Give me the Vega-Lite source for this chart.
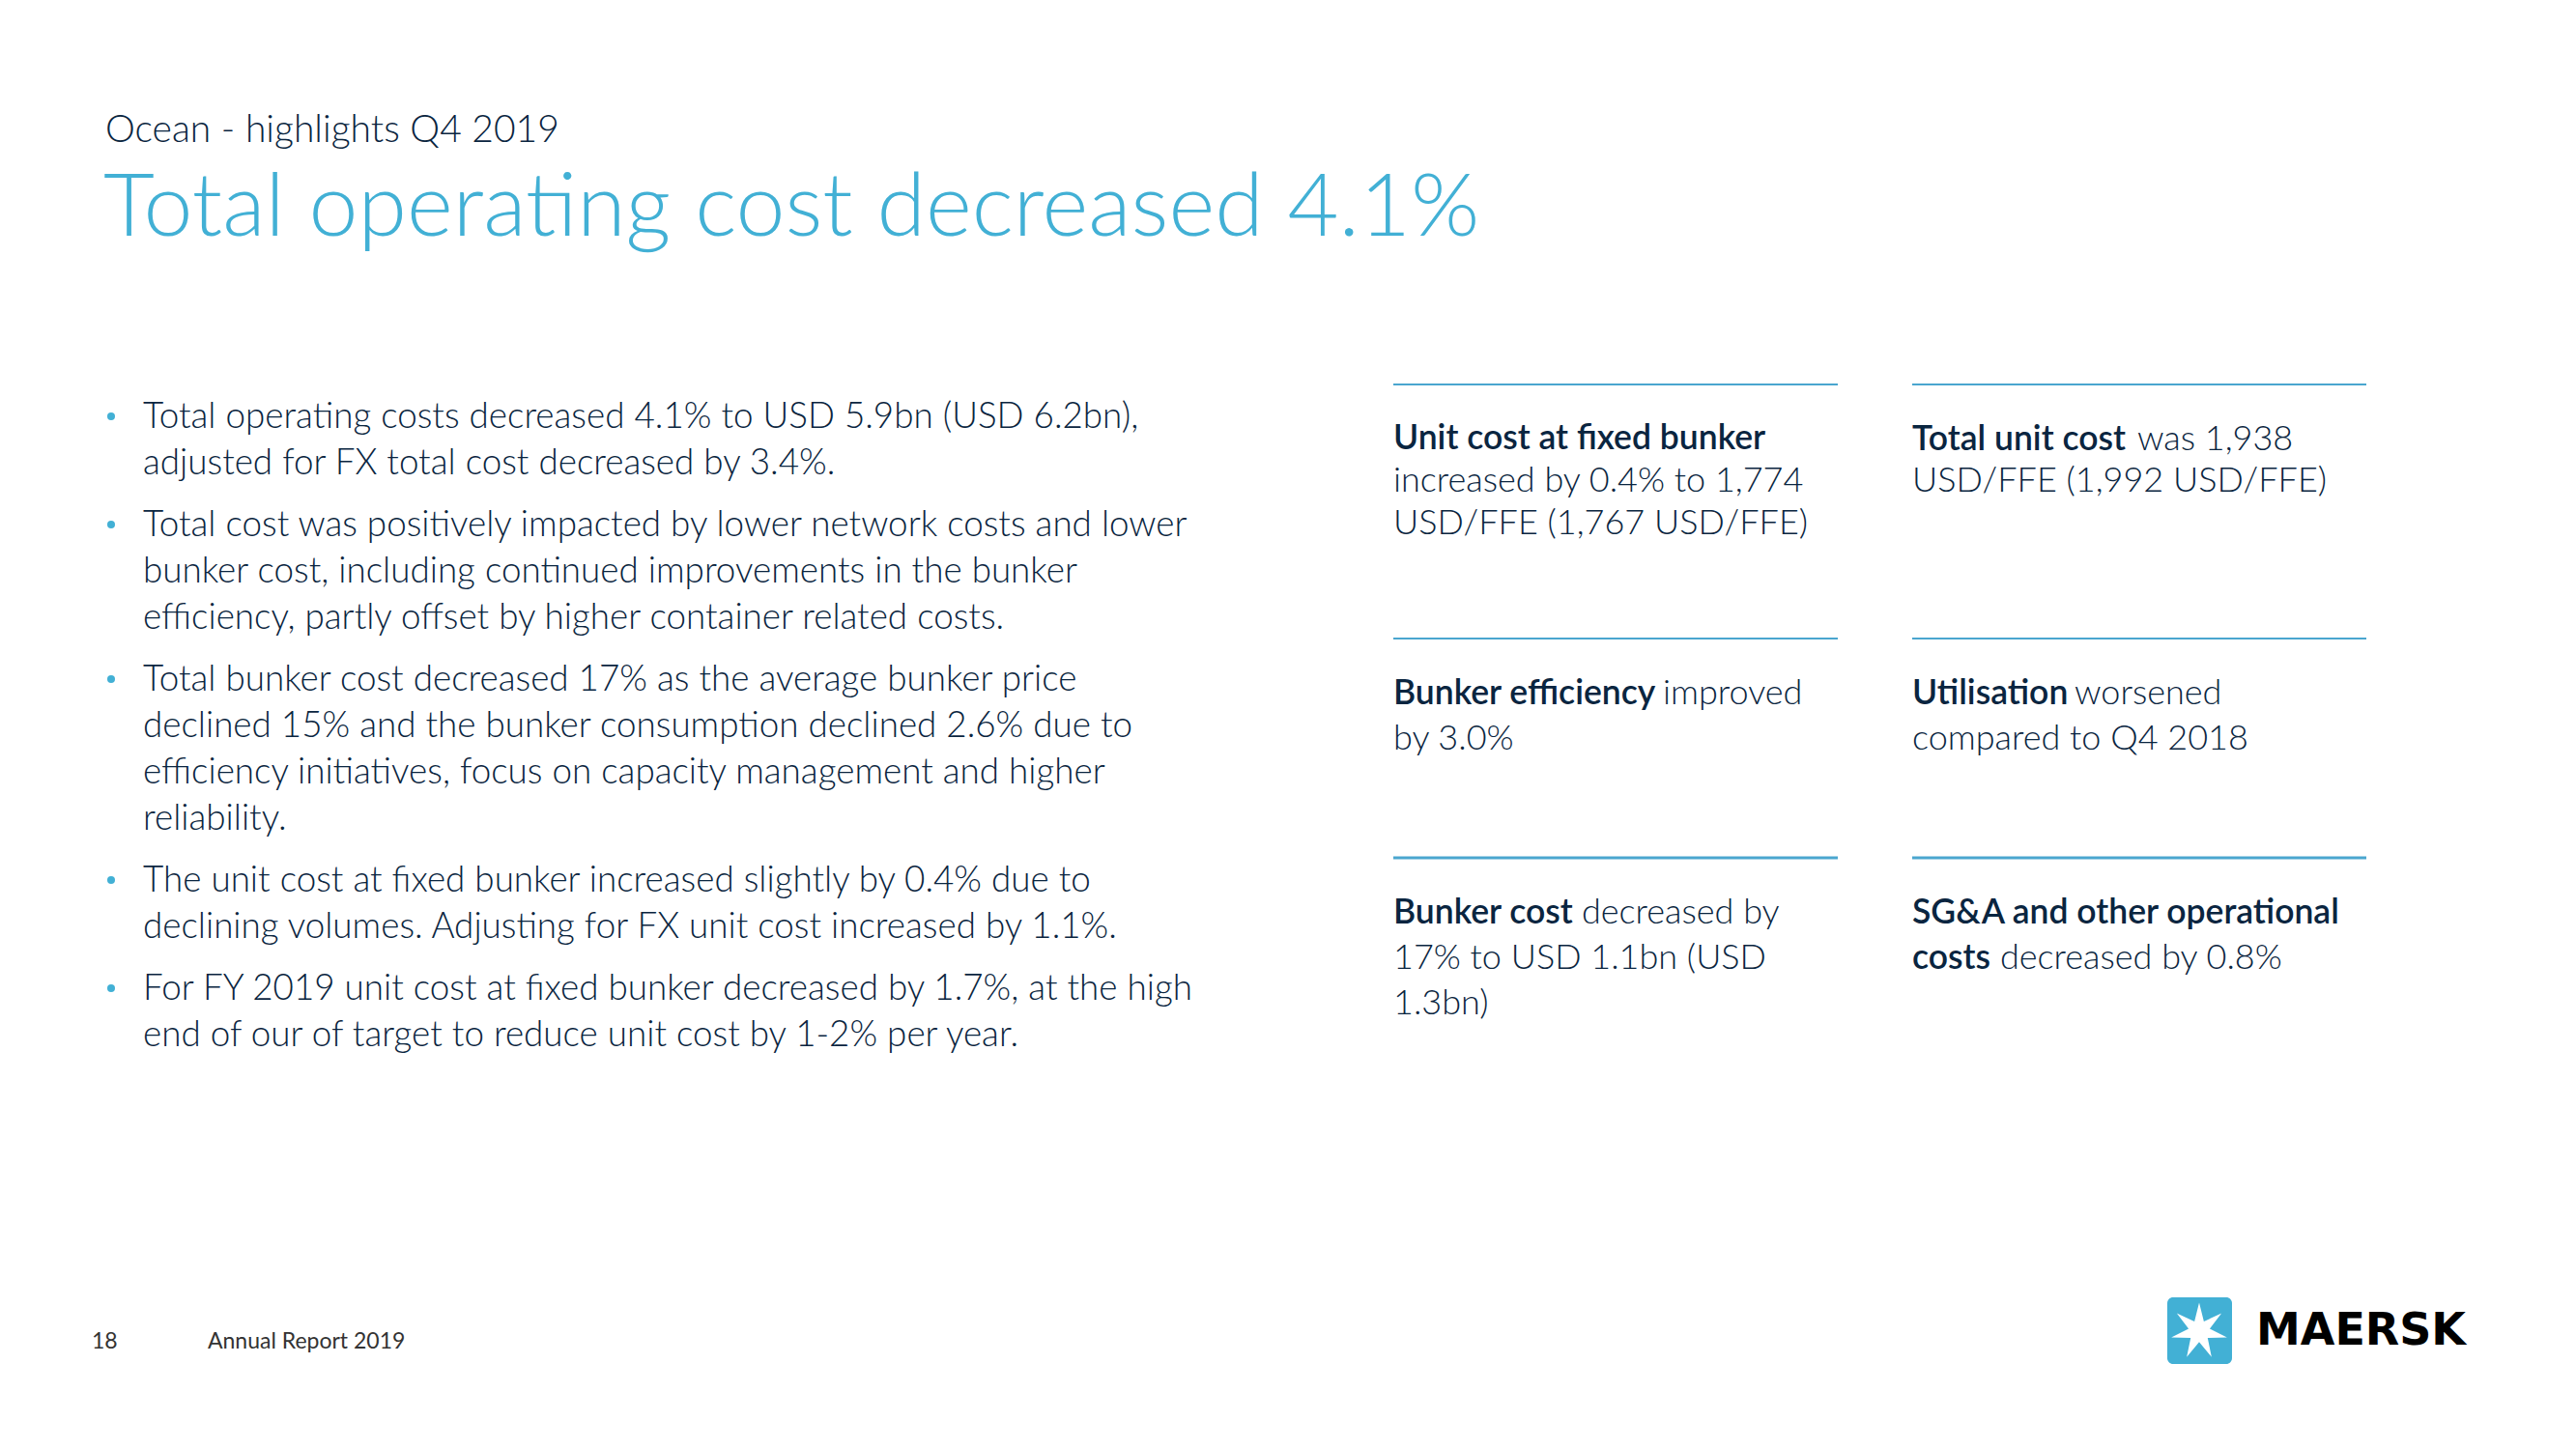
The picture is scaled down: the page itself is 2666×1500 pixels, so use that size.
{
  "$schema": "https://vega.github.io/schema/vega-lite/v6.json",
  "width": 2666,
  "height": 1500,
  "padding": 0,
  "autosize": {"type": "none"},
  "background": "white",
  "config": {"view": {"stroke": null}},
  "datasets": {
    "texts": [
      {"kind": "kicker", "text": "Ocean - highlights Q4 2019", "x": 109, "y": 147},
      {"kind": "title", "text": "Total operating cost decreased 4.1%", "x": 107, "y": 244},
      {"kind": "left", "text": "Total operating costs decreased 4.1% to USD 5.9bn (USD 6.2bn),", "x": 148, "y": 443},
      {"kind": "left", "text": "adjusted for FX total cost decreased by 3.4%.", "x": 148, "y": 491},
      {"kind": "left", "text": "Total cost was positively impacted by lower network costs and lower", "x": 148, "y": 555},
      {"kind": "left", "text": "bunker cost, including continued improvements in the bunker", "x": 148, "y": 603},
      {"kind": "left", "text": "efficiency, partly offset by higher container related costs.", "x": 148, "y": 651},
      {"kind": "left", "text": "Total bunker cost decreased 17% as the average bunker price", "x": 148, "y": 715},
      {"kind": "left", "text": "declined 15% and the bunker consumption declined 2.6% due to", "x": 148, "y": 763},
      {"kind": "left", "text": "efficiency initiatives, focus on capacity management and higher", "x": 148, "y": 811},
      {"kind": "left", "text": "reliability.", "x": 148, "y": 859},
      {"kind": "left", "text": "The unit cost at fixed bunker increased slightly by 0.4% due to", "x": 148, "y": 923},
      {"kind": "left", "text": "declining volumes. Adjusting for FX unit cost increased by 1.1%.", "x": 148, "y": 971},
      {"kind": "left", "text": "For FY 2019 unit cost at fixed bunker decreased by 1.7%, at the high", "x": 148, "y": 1035},
      {"kind": "left", "text": "end of our of target to reduce unit cost by 1-2% per year.", "x": 148, "y": 1083},
      {"kind": "bold", "text": "Unit cost at fixed bunker", "x": 1442, "y": 465},
      {"kind": "body", "text": "increased by 0.4% to 1,774", "x": 1442, "y": 509},
      {"kind": "body", "text": "USD/FFE (1,767 USD/FFE)", "x": 1442, "y": 553},
      {"kind": "bold", "text": "Total unit cost", "x": 1979, "y": 466},
      {"kind": "body", "text": "was 1,938", "x": 2212, "y": 466},
      {"kind": "body", "text": "USD/FFE (1,992 USD/FFE)", "x": 1979, "y": 509},
      {"kind": "bold", "text": "Bunker efficiency", "x": 1442, "y": 729},
      {"kind": "body", "text": "improved", "x": 1721, "y": 729},
      {"kind": "body", "text": "by 3.0%", "x": 1442, "y": 776},
      {"kind": "bold", "text": "Utilisation", "x": 1979, "y": 729},
      {"kind": "body", "text": "worsened", "x": 2147, "y": 729},
      {"kind": "body", "text": "compared to Q4 2018", "x": 1979, "y": 776},
      {"kind": "bold", "text": "Bunker cost", "x": 1442, "y": 956},
      {"kind": "body", "text": "decreased by", "x": 1637, "y": 956},
      {"kind": "body", "text": "17% to USD 1.1bn (USD", "x": 1442, "y": 1003},
      {"kind": "body", "text": "1.3bn)", "x": 1442, "y": 1050},
      {"kind": "bold", "text": "SG&A and other operational", "x": 1979, "y": 956},
      {"kind": "bold", "text": "costs", "x": 1979, "y": 1003},
      {"kind": "body", "text": "decreased by 0.8%", "x": 2070, "y": 1003},
      {"kind": "footer", "text": "18", "x": 95, "y": 1396},
      {"kind": "footer", "text": "Annual Report 2019", "x": 215, "y": 1396},
      {"kind": "logo", "text": "MAERSK", "x": 2335, "y": 1392}
    ],
    "bullets": [
      {"x": 115, "y": 431},
      {"x": 115, "y": 543},
      {"x": 115, "y": 703},
      {"x": 115, "y": 911},
      {"x": 115, "y": 1023}
    ],
    "rules": [
      {"x": 1442, "x2": 1902, "y": 398, "row": 1},
      {"x": 1979, "x2": 2449, "y": 398, "row": 1},
      {"x": 1442, "x2": 1902, "y": 661, "row": 2},
      {"x": 1979, "x2": 2449, "y": 661, "row": 2},
      {"x": 1442, "x2": 1902, "y": 888, "row": 3},
      {"x": 1979, "x2": 2449, "y": 888, "row": 3}
    ],
    "logobox": [
      {"x": 2243, "x2": 2310, "y": 1343, "y2": 1412}
    ],
    "star": [
      {"x": 2276, "y": 1378}
    ]
  },
  "encoding": {
    "x": {"field": "x", "type": "quantitative", "scale": {"domain": [0, 2666], "nice": false, "zero": false}, "axis": null},
    "y": {"field": "y", "type": "quantitative", "scale": {"domain": [0, 1500], "nice": false, "zero": false, "reverse": true}, "axis": null}
  },
  "layer": [
    {
      "data": {"name": "rules"},
      "transform": [{"filter": "datum.row < 3"}],
      "mark": {"type": "rule", "color": "#4aa6cf", "strokeWidth": 2},
      "encoding": {"x2": {"field": "x2"}}
    },
    {
      "data": {"name": "rules"},
      "transform": [{"filter": "datum.row == 3"}],
      "mark": {"type": "rule", "color": "#4aa6cf", "strokeWidth": 3},
      "encoding": {"x2": {"field": "x2"}}
    },
    {
      "data": {"name": "bullets"},
      "mark": {"type": "point", "shape": "circle", "filled": true, "size": 64, "color": "#42b0d5", "opacity": 1}
    },
    {
      "data": {"name": "texts"},
      "transform": [{"filter": "datum.kind == 'kicker'"}],
      "mark": {"type": "text", "align": "left", "baseline": "alphabetic", "font": "Lato", "fontWeight": 300, "fontSize": 39, "color": "#0a2540"},
      "encoding": {"text": {"field": "text"}}
    },
    {
      "data": {"name": "texts"},
      "transform": [{"filter": "datum.kind == 'title'"}],
      "mark": {"type": "text", "align": "left", "baseline": "alphabetic", "font": "Lato", "fontWeight": 300, "fontSize": 91.5, "color": "#42b0d5"},
      "encoding": {"text": {"field": "text"}}
    },
    {
      "data": {"name": "texts"},
      "transform": [{"filter": "datum.kind == 'left'"}],
      "mark": {"type": "text", "align": "left", "baseline": "alphabetic", "font": "Lato", "fontWeight": 300, "fontSize": 36.8, "color": "#0a2540"},
      "encoding": {"text": {"field": "text"}}
    },
    {
      "data": {"name": "texts"},
      "transform": [{"filter": "datum.kind == 'body'"}],
      "mark": {"type": "text", "align": "left", "baseline": "alphabetic", "font": "Lato", "fontWeight": 300, "fontSize": 36, "color": "#0a2540"},
      "encoding": {"text": {"field": "text"}}
    },
    {
      "data": {"name": "texts"},
      "transform": [{"filter": "datum.kind == 'bold'"}],
      "mark": {"type": "text", "align": "left", "baseline": "alphabetic", "font": "Lato", "fontWeight": 600, "fontSize": 35.5, "color": "#0a2540"},
      "encoding": {"text": {"field": "text"}}
    },
    {
      "data": {"name": "texts"},
      "transform": [{"filter": "datum.kind == 'footer'"}],
      "mark": {"type": "text", "align": "left", "baseline": "alphabetic", "font": "Lato", "fontWeight": 400, "fontSize": 23, "color": "#333333"},
      "encoding": {"text": {"field": "text"}}
    },
    {
      "data": {"name": "texts"},
      "transform": [{"filter": "datum.kind == 'logo'"}],
      "mark": {"type": "text", "align": "left", "baseline": "alphabetic", "font": "DejaVu Sans", "fontWeight": "bold", "fontSize": 46, "color": "#000000"},
      "encoding": {"text": {"field": "text"}}
    },
    {
      "data": {"name": "logobox"},
      "mark": {"type": "rect", "color": "#42b0d5", "cornerRadius": 6},
      "encoding": {"x2": {"field": "x2"}, "y2": {"field": "y2"}}
    },
    {
      "data": {"name": "star"},
      "mark": {"type": "point", "filled": true, "color": "#ffffff", "opacity": 1, "size": 3500, "strokeWidth": 0,
        "shape": "M0,-1L0.165,-0.342L0.782,-0.623L0.370,-0.085L0.975,0.223L0.297,0.237L0.434,0.901L0,0.38L-0.434,0.901L-0.297,0.237L-0.975,0.223L-0.370,-0.085L-0.782,-0.623L-0.165,-0.342Z"}
    }
  ]
}
